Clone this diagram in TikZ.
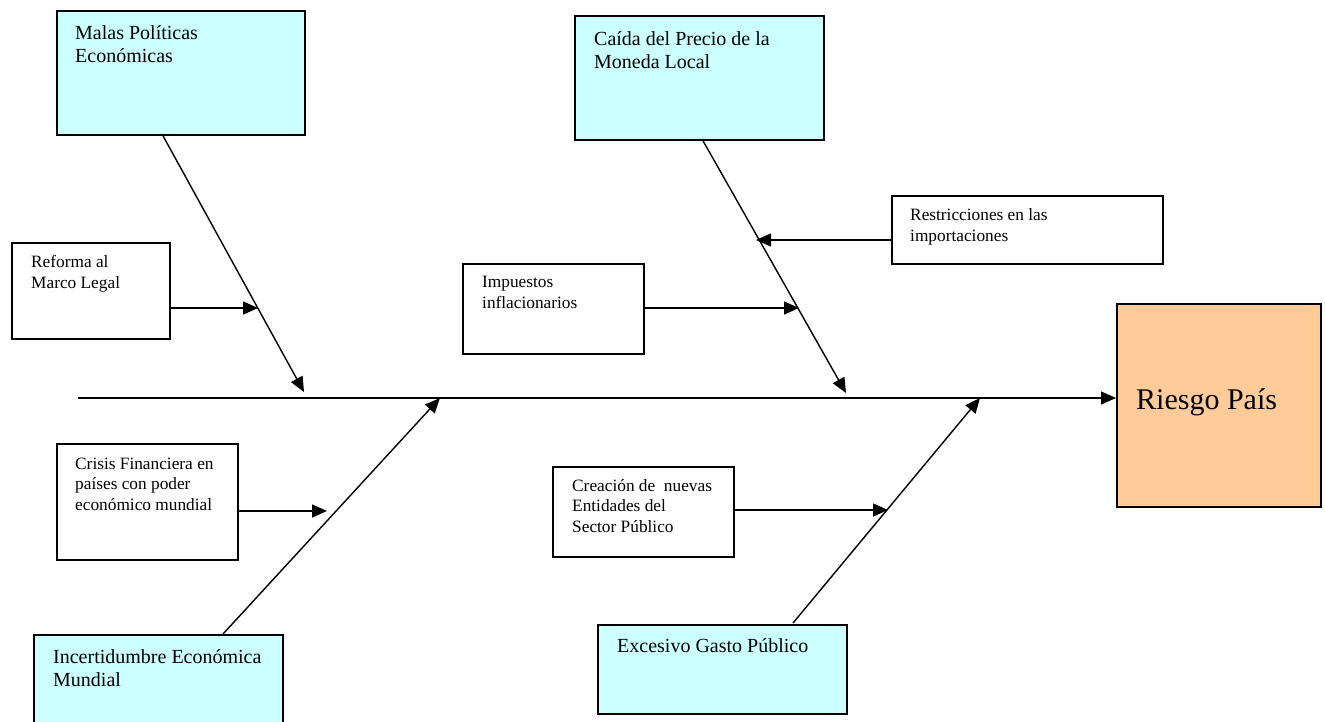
\documentclass[tikz,border=0pt]{standalone}
\usepackage{fontspec}
\setmainfont{Liberation Serif}
\usetikzlibrary{arrows.meta,calc}
\definecolor{causefill}{HTML}{CCFFFF}
\definecolor{effectfill}{HTML}{FFCC99}
\tikzset{
  box/.style={draw=black, line width=1.6pt, rectangle, inner sep=0pt, anchor=north west},
  major/.style={box, fill=causefill},
  minor/.style={box, fill=white},
  effect/.style={box, fill=effectfill},
  % multi-line labels are placed by the baseline of their last line
  bigtxt/.style={anchor=base west, inner sep=0pt, align=left, font=\fontsize{20}{23}\selectfont},
  smalltxt/.style={anchor=base west, inner sep=0pt, align=left, font=\fontsize{17.3}{20.2}\selectfont},
  hugetxt/.style={anchor=base west, inner sep=0pt, font=\fontsize{30}{34}\selectfont},
  arr/.style={line width=1.4pt, -{Triangle[length=15pt,width=13pt]}},
}
\begin{document}
\begin{tikzpicture}[x=1pt,y=-1pt]
\clip (0,0) rectangle (1325,721);
\fill[white] (0,0) rectangle (1325,721);

% major causes
\node[major, minimum width=248pt, minimum height=124pt] (malas) at (56,10) {};
\node[major, minimum width=249pt, minimum height=124pt] (caida) at (574,15) {};
\node[major, minimum width=249pt, minimum height=110pt] (incert) at (33,634) {};
\node[major, minimum width=249pt, minimum height=89pt] (gasto) at (597,624) {};

% minor causes
\node[minor, minimum width=158pt, minimum height=96pt] (reforma) at (11,242) {};
\node[minor, minimum width=271pt, minimum height=68pt] (restr) at (891,195) {};
\node[minor, minimum width=181pt, minimum height=90pt] (impuestos) at (462,263) {};
\node[minor, minimum width=181pt, minimum height=116pt] (crisis) at (56,443) {};
\node[minor, minimum width=181pt, minimum height=90pt] (creacion) at (552,466) {};

% effect
\node[effect, minimum width=204pt, minimum height=203pt] (riesgo) at (1116,303) {};

% labels
\node[bigtxt] (tmalas) at (75,62) {Malas Políticas\\Económicas};
\node[bigtxt] (tcaida) at (594,68) {Caída del Precio de la\\Moneda Local};
\node[bigtxt] (tincert) at (53,686) {Incertidumbre Económica\\Mundial};
\node[bigtxt] (tgasto) at (617,652) {Excesivo Gasto Público};
\node[smalltxt] (treforma) at (31,288) {Reforma al\\Marco Legal};
\node[smalltxt] (trestr) at (910,241) {Restricciones en las\\importaciones};
\node[smalltxt] (timp) at (482,308) {Impuestos\\inflacionarios};
\node[smalltxt] (tcrisis) at (75,510) {Crisis Financiera en\\países con poder\\económico mundial};
\node[smalltxt] (tcreacion) at (572,532) {Creación de~ nuevas\\Entidades del\\Sector Público};
\node[hugetxt] (triesgo) at (1136,409) {Riesgo País};

% spine and bone end points
\coordinate (tail) at (78,398);
\coordinate (malasfoot) at (162,134);
\coordinate (malastip) at (304,392);
\coordinate (caidafoot) at (702,139);
\coordinate (caidatip) at (846,393);
\coordinate (incertfoot) at (223,634);
\coordinate (incerttip) at (440,398);
\coordinate (gastofoot) at (793,623);
\coordinate (gastotip) at (980,398);

% tips of the minor-cause arrows on the bones
\coordinate (reformatip) at (258,308);
\coordinate (restrtip) at (756,240);
\coordinate (imptip) at (799,308);
\coordinate (crisistip) at (327,511);
\coordinate (creaciontip) at (888,510);

% main spine
\draw[arr] (tail) -- (tail -| riesgo.west);

% bones
\draw[arr] (malasfoot) -- (malastip);
\draw[arr] (caidafoot) -- (caidatip);
\draw[arr] (incertfoot) -- (incerttip);
\draw[arr] (gastofoot) -- (gastotip);

% minor-cause arrows
\draw[arr] (reformatip -| reforma.east) -- (reformatip);
\draw[arr] (restrtip -| restr.west) -- (restrtip);
\draw[arr] (imptip -| impuestos.east) -- (imptip);
\draw[arr] (crisistip -| crisis.east) -- (crisistip);
\draw[arr] (creaciontip -| creacion.east) -- (creaciontip);
\end{tikzpicture}
\end{document}
